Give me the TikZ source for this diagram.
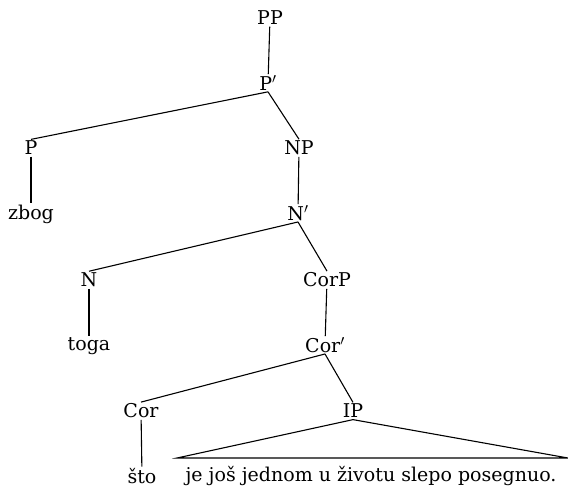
\documentclass[tikz,border=0pt]{standalone}
\usepackage{fontspec}
\setmainfont{DejaVu Serif}
\usetikzlibrary{positioning,calc}

\begin{document}
\begin{tikzpicture}[x=1pt,y=-1pt,
        cat/.style={inner sep=1.5pt,font=\fontsize{19}{22}\selectfont},
        word/.style={inner sep=1.5pt,font=\fontsize{19}{22}\selectfont},
        branch/.style={line width=1.1pt}]
        \useasboundingbox (0,0) rectangle (568,490);

        %% categories
        \node [cat] (pp) at (270,18) {PP};
        \node [cat] (pbar) at (268,83) {P$'$};
        \node [cat] (p) at (31,148) {P};
        \node [cat] (np) at (299,148) {NP};
        \node [cat] (nbar) at (298,213) {N$'$};
        \node [cat] (n) at (89,280) {N};
        \node [cat] (corp) at (327,280) {CorP};
        \node [cat] (corbar) at (325,345) {Cor$'$};
        \node [cat] (cor) at (141,411) {Cor};
        \node [cat] (ip) at (353,411) {IP};

        %% words
        \node [word] (zbog) at (31,214) {zbog};
        \node [word] (toga) at (89,346) {toga};
        \node [word] (sto) at (142,476) {što};
        \node [word] (rest) at (371,476) {je još jednom u životu slepo posegnuo.};
        \coordinate (tri_l) at (177,458);
        \coordinate (tri_r) at (568,458);

        %% branches
        \draw [branch] (pp) -- (pbar);
        \draw [branch] (pbar.south) -- (p.north);
        \draw [branch] (pbar.south) -- (np.north);
        \draw [branch] (p) -- (zbog);
        \draw [branch] (np) -- (nbar);
        \draw [branch] (nbar.south) -- (n.north);
        \draw [branch] (nbar.south) -- (corp.north);
        \draw [branch] (n) -- (toga);
        \draw [branch] (corp) -- (corbar);
        \draw [branch] (corbar.south) -- (cor.north);
        \draw [branch] (corbar.south) -- (ip.north);
        \draw [branch] (cor) -- (sto);
        \draw [branch] (tri_l) -- (ip.south) -- (tri_r) -- cycle;

      \end{tikzpicture}
\end{document}
